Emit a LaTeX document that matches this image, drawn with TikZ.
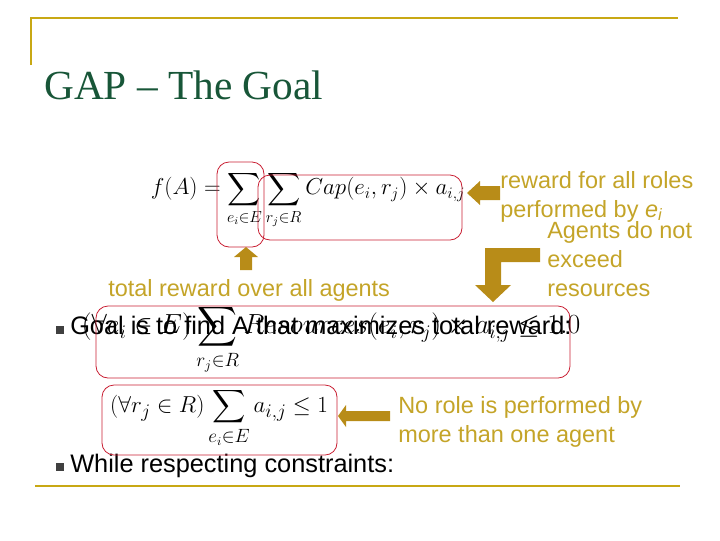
\documentclass[tikz,border=0pt]{standalone}
\usepackage{fontspec}
\usepackage{amsmath}
\setmainfont{Liberation Serif}
\newfontfamily\lsans{Liberation Sans}
\definecolor{gold}{RGB}{200,168,20}
\definecolor{goldtxt}{RGB}{196,164,40}
\definecolor{arrgold}{RGB}{184,140,24}
\definecolor{titlegreen}{RGB}{24,86,56}
\definecolor{boxred}{RGB}{200,30,50}
\begin{document}
\begin{tikzpicture}[x=0.75pt,y=-0.75pt,
  lbl/.style={font=\lsans\fontsize{17.6}{20}\selectfont,text=goldtxt,inner sep=0pt,anchor=base west},
  body/.style={font=\lsans\fontsize{19}{22}\selectfont,text=black,inner sep=0pt,anchor=base west},
  rbox/.style={draw=boxred,rounded corners=9pt,line width=0.6pt},
  garrow/.style={fill=arrgold,draw=none}]
\useasboundingbox (0,0) rectangle (720,540);
% frame
\draw[gold,line width=2pt] (31,65) -- (31,18) -- (678,18);
\draw[gold,line width=2pt] (35,486) -- (680,486);
\node[font=\fontsize{31}{34}\selectfont,text=titlegreen,inner sep=0pt,anchor=base west] (title) at (44,99) {GAP – The Goal};
% bullets
\fill[black!75] (56,326) rectangle (64,334);
\fill[black!75] (56,463) rectangle (64,471);
% body texts
\node[body] (goal) at (70,334) {Goal is to find A that maximizes total reward:};
\node[body] (while) at (70,472) {While respecting constraints:};
% formula 1
\node[inner sep=0pt,font=\fontsize{17}{20}\selectfont] (f1) at (308,200) {$\displaystyle f(A)=\sum_{e_i\in E}\sum_{r_j\in R} Cap(e_i,r_j)\times a_{i,j}$};
\draw[rbox] (217,162) rectangle (264,247);
\draw[rbox] (258,175) rectangle (462,240);
% formula 2
\node[inner sep=0pt,font=\fontsize{19.3}{23}\selectfont] (f2) at (331,340) {$\displaystyle (\forall e_i\in E)\sum_{r_j\in R} Resources(e_i,r_j)\times a_{i,j}\le 1.0$};
\draw[rbox] (96,306) rectangle (570,378);
% formula 3
\node[inner sep=0pt,font=\fontsize{19}{22}\selectfont] (f3) at (219,418) {$\displaystyle (\forall r_j\in R)\sum_{e_i\in E} a_{i,j}\le 1$};
\draw[rbox] (102,385) rectangle (337,455);
% labels
\node[lbl] (l1) at (108,296) {total reward over all agents};
\node[lbl] (l2a) at (500,188) {reward for all roles};
\node[lbl] (l2b) at (500,217) {performed by \textit{e}\textsubscript{\textit{i}}};
\node[lbl] (l3a) at (547,238) {Agents do not};
\node[lbl] (l3b) at (547,267) {exceed};
\node[lbl] (l3c) at (547,296) {resources};
\node[lbl] (l4a) at (398,413) {No role is performed by};
\node[lbl] (l4b) at (398,442) {more than one agent};
% arrows
\fill[garrow] (246,247) -- (258,257) -- (252,257) -- (252,270) -- (240,270) -- (240,257) -- (234,257) -- cycle;
\fill[garrow] (467,193) -- (480,181) -- (480,186) -- (500,186) -- (500,200) -- (480,200) -- (480,205) -- cycle;
\fill[garrow] (540,248) -- (540,262) -- (501,262) -- (501,285) -- (511,285) -- (493,302) -- (475,285) -- (485,285) -- (485,248) -- cycle;
\fill[garrow] (338,416) -- (346,405) -- (346,411) -- (390,411) -- (390,421) -- (346,421) -- (346,427) -- cycle;
\end{tikzpicture}
\end{document}
